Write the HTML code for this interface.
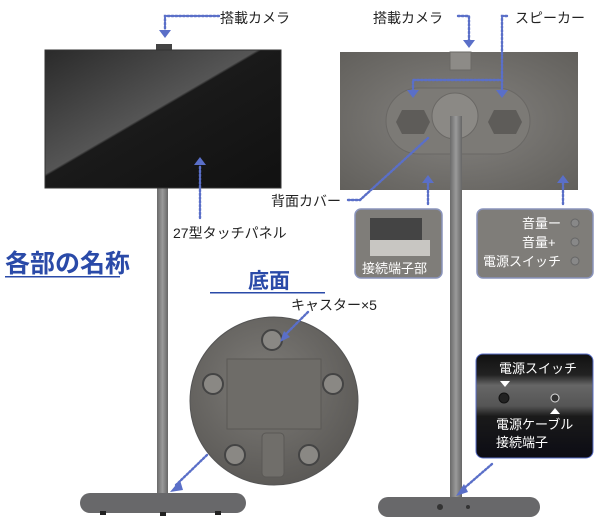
<!DOCTYPE html>
<html><head><meta charset="utf-8"><style>
html,body{margin:0;padding:0;background:#fff;}
svg{display:block;font-family:"Liberation Sans","Noto Sans CJK JP",sans-serif;}
</style></head><body>
<svg width="600" height="529" viewBox="0 0 600 529" xmlns="http://www.w3.org/2000/svg">
<defs>
<linearGradient id="scr" x1="0" y1="0" x2="1" y2="1">
<stop offset="0" stop-color="#2a2a2a"/><stop offset="0.45" stop-color="#555"/><stop offset="0.46" stop-color="#1a1a1a"/><stop offset="1" stop-color="#111"/></linearGradient>
<radialGradient id="back" cx="0.5" cy="0.5" r="0.7"><stop offset="0" stop-color="#858380"/><stop offset="1" stop-color="#62605c"/></radialGradient>
<radialGradient id="disc" cx="0.45" cy="0.4" r="0.6"><stop offset="0" stop-color="#7e7c78"/><stop offset="1" stop-color="#5c5a57"/></radialGradient>
<linearGradient id="pole" x1="0" x2="1"><stop offset="0" stop-color="#6a6a6a"/><stop offset="0.5" stop-color="#9a9a9a"/><stop offset="1" stop-color="#666"/></linearGradient>
<linearGradient id="dark" x1="0" y1="0" x2="0" y2="1"><stop offset="0" stop-color="#111"/><stop offset="0.2" stop-color="#222"/><stop offset="0.3" stop-color="#666"/><stop offset="0.5" stop-color="#555"/><stop offset="0.6" stop-color="#1a1a1a"/><stop offset="1" stop-color="#0c0c14"/></linearGradient>
</defs>
<!-- front TV -->
<rect x="157" y="186" width="11" height="310" fill="url(#pole)"/>
<rect x="80" y="493" width="166" height="20" rx="10" fill="#68686a"/>
<rect x="100" y="511" width="6" height="4" fill="#222"/><rect x="160" y="512" width="6" height="4" fill="#222"/><rect x="215" y="511" width="6" height="4" fill="#222"/>
<rect x="156" y="44" width="16" height="7" fill="#444"/>
<rect x="45" y="50" width="236" height="138" fill="url(#scr)" stroke="#333"/>
<text x="220" y="23" font-size="14" fill="#222">搭載カメラ</text>
<text x="173" y="238" font-size="14" fill="#222">27型タッチパネル</text>
<text x="5" y="272" font-size="25" font-weight="bold" fill="#2a4aa8">各部の名称</text>
<rect x="5" y="276" width="115" height="1.5" fill="#2a4aa8"/>
<text x="248" y="288" font-size="21" font-weight="bold" fill="#2a4aa8">底面</text>
<rect x="210" y="292" width="115" height="1.5" fill="#2a4aa8"/>
<text x="291" y="310" font-size="14" fill="#222">キャスター×5</text>
<!-- bottom disc -->
<circle cx="274" cy="401" r="84" fill="url(#disc)" stroke="#555"/>
<rect x="227" y="359" width="94" height="70" fill="#6e6c68" stroke="#5a5855"/>
<rect x="262" y="433" width="22" height="44" rx="4" fill="#706e6a" stroke="#5a5855"/>
<g fill="#8a8884" stroke="#444" stroke-width="2">
<circle cx="272" cy="340" r="10"/><circle cx="213" cy="384" r="10"/><circle cx="333" cy="384" r="10"/><circle cx="235" cy="455" r="10"/><circle cx="309" cy="455" r="10"/></g>
<!-- back TV -->
<rect x="340" y="52" width="238" height="138" fill="url(#back)"/>
<rect x="450" y="52" width="21" height="18" fill="#8d8b87" stroke="#6a6865"/>
<rect x="386" y="88" width="144" height="66" rx="33" fill="#7c7a76" stroke="#6a6865"/>
<polygon points="396,122 402,110 424,110 430,122 424,134 402,134" fill="#5e5c59"/>
<polygon points="488,122 494,110 516,110 522,122 516,134 494,134" fill="#5e5c59"/>
<circle cx="455" cy="116" r="23" fill="#8b8985" stroke="#6a6865"/>
<rect x="450" y="116" width="12" height="381" fill="url(#pole)"/>
<rect x="378" y="497" width="162" height="20" rx="10" fill="#68686a"/>
<circle cx="440" cy="507" r="3" fill="#333"/><circle cx="468" cy="507" r="2" fill="#333"/>
<text x="373" y="23" font-size="14" fill="#222">搭載カメラ</text>
<text x="515" y="23" font-size="14" fill="#222">スピーカー</text>
<text x="271" y="206" font-size="14" fill="#222">背面カバー</text>
<rect x="355" y="209" width="87" height="69" rx="6" fill="#7f7d79" stroke="#8a94bc" stroke-width="1.5"/>
<rect x="370" y="218" width="52" height="24" fill="#444"/>
<rect x="370" y="240" width="60" height="16" fill="#c8c6c2"/>
<text x="362" y="273" font-size="13" fill="#fff">接続端子部</text>
<rect x="477" y="209" width="116" height="69" rx="6" fill="#7f7d79" stroke="#8a94bc" stroke-width="1.5"/>
<text x="522" y="228" font-size="13" fill="#fff">音量ー</text>
<text x="522" y="247" font-size="13" fill="#fff">音量+</text>
<text x="483" y="266" font-size="13" fill="#fff">電源スイッチ</text>
<circle cx="575" cy="223" r="4" fill="#888" stroke="#666"/><circle cx="575" cy="242" r="4" fill="#888" stroke="#666"/><circle cx="575" cy="261" r="4" fill="#888" stroke="#666"/>
<rect x="476" y="354" width="117" height="104" rx="7" fill="url(#dark)" stroke="#5a6fc8" stroke-width="1"/>
<text x="499" y="373" font-size="13" fill="#fff">電源スイッチ</text>
<polygon points="500,381 510,381 505,387" fill="#fff"/>
<circle cx="504" cy="398" r="5" fill="#222" stroke="#111"/>
<circle cx="555" cy="398" r="4" fill="#333" stroke="#ddd"/>
<polygon points="550,414 560,414 555,408" fill="#fff"/>
<text x="496" y="429" font-size="13" fill="#fff">電源ケーブル</text>
<text x="496" y="447" font-size="13" fill="#fff">接続端子</text>
<!-- connectors on top -->
<g fill="none" stroke="#5a6fc8" stroke-width="2.4" stroke-dasharray="1.8 2" stroke-linecap="round">
<path d="M219 16 H165 V30"/>
<path d="M200 218 V166"/>
<path d="M458 16 H469 V40"/>
<path d="M507 16 H502 V80 H413 V90"/>
<path d="M502 80 V90"/>
<path d="M348 200 H360 L428 138"/>
<path d="M428 204 V182"/>
<path d="M563 204 V182"/>
<path d="M308 312 L285 335"/>
<path d="M207 455 L176 485"/>
<path d="M492 464 L462 490"/>
</g>
<g fill="#5a6fc8">
<polygon points="159,30 171,30 165,38"/>
<polygon points="194,165 206,165 200,157"/>
<polygon points="463,40 475,40 469,48"/>
<polygon points="407,90 419,90 413,98"/>
<polygon points="496,90 508,90 502,98"/>
<polygon points="422,183 434,183 428,175"/>
<polygon points="557,183 569,183 563,175"/>
<polygon points="170,492 180,480 183,490"/>
<polygon points="456,496 464,484 468,492"/>
<polygon points="280,342 284,331 290,337"/>
</g>
</svg>
</body></html>
